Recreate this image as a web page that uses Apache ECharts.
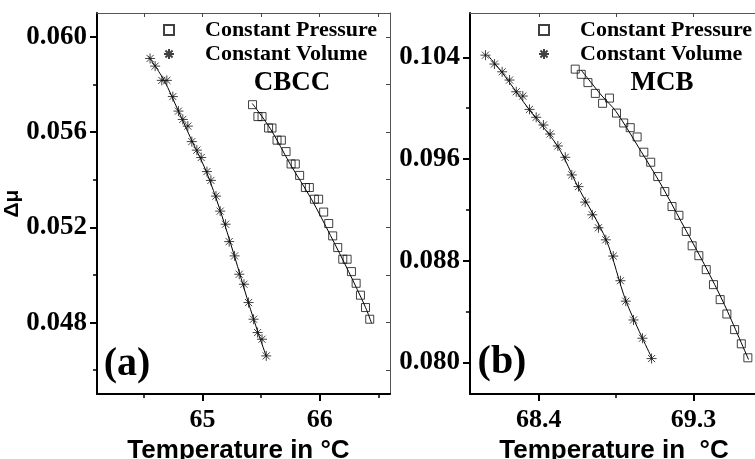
<!DOCTYPE html>
<html>
<head>
<meta charset="utf-8">
<script src="https://cdn.jsdelivr.net/npm/echarts@6.0.0/dist/echarts.min.js"></script>
<style>
  html, body { margin: 0; padding: 0; background: #fff; }
  #chart { width: 755px; height: 459px; }
</style>
</head>
<body>
<div id="chart"></div>
<script>
// (a) CBCC : [temperature, delta mu]
var cbccPressure = [
  [65.427, 0.05715], [65.473, 0.05665], [65.508, 0.05665], [65.564, 0.05617], [65.593, 0.05617],
  [65.636, 0.05566], [65.673, 0.05566], [65.713, 0.05518], [65.756, 0.05466], [65.792, 0.05466],
  [65.829, 0.05418], [65.878, 0.05367], [65.912, 0.05367], [65.955, 0.05318], [65.991, 0.05318],
  [66.034, 0.05264], [66.077, 0.05216], [66.111, 0.05164], [66.154, 0.05115], [66.197, 0.05066],
  [66.234, 0.05066], [66.271, 0.05014], [66.311, 0.04965], [66.348, 0.04915], [66.391, 0.04863],
  [66.427, 0.04814]
];
var cbccVolume = [
  [64.553, 0.05909], [64.596, 0.05877], [64.653, 0.05817], [64.696, 0.05817], [64.747, 0.05749],
  [64.795, 0.05688], [64.832, 0.05653], [64.875, 0.05625], [64.909, 0.05560], [64.952, 0.05524],
  [64.989, 0.05493], [65.038, 0.05434], [65.072, 0.05397], [65.115, 0.05331], [65.151, 0.05268],
  [65.197, 0.05213], [65.228, 0.05140], [65.274, 0.05080], [65.314, 0.05003], [65.354, 0.04961],
  [65.393, 0.04884], [65.436, 0.04814], [65.470, 0.04758], [65.508, 0.04730], [65.544, 0.04660]
];
var cbccPressureFit = [
  [65.425, 0.05720], [65.577, 0.05616], [65.750, 0.05464], [65.930, 0.05318],
  [66.092, 0.05166], [66.246, 0.05015], [66.391, 0.04864], [66.443, 0.04797]
];
var cbccVolumeFit = [
  [64.540, 0.05918], [64.673, 0.05817], [64.792, 0.05691], [64.912, 0.05561], [65.032, 0.05435],
  [65.151, 0.05271], [65.271, 0.05082], [65.391, 0.04885], [65.476, 0.04755], [65.544, 0.04659]
];

// (b) MCB
var mcbPressure = [
  [68.612, 0.10308], [68.647, 0.10267], [68.686, 0.10202], [68.729, 0.10117], [68.771, 0.10039],
  [68.811, 0.10080], [68.852, 0.09962], [68.894, 0.09884], [68.932, 0.09847], [68.972, 0.09774],
  [69.011, 0.09654], [69.051, 0.09575], [69.092, 0.09462], [69.133, 0.09344], [69.175, 0.09226],
  [69.215, 0.09157], [69.258, 0.09030], [69.292, 0.08917], [69.331, 0.08839], [69.374, 0.08729],
  [69.416, 0.08611], [69.455, 0.08493], [69.494, 0.08380], [69.539, 0.08257], [69.578, 0.08145],
  [69.616, 0.08035]
];
var mcbVolume = [
  [68.090, 0.10418], [68.142, 0.10348], [68.187, 0.10287], [68.230, 0.10222], [68.269, 0.10130],
  [68.307, 0.10096], [68.346, 0.09991], [68.385, 0.09929], [68.427, 0.09868], [68.466, 0.09797],
  [68.511, 0.09703], [68.554, 0.09614], [68.592, 0.09475], [68.631, 0.09383], [68.670, 0.09261],
  [68.711, 0.09161], [68.747, 0.09059], [68.790, 0.08964], [68.833, 0.08836], [68.875, 0.08642],
  [68.906, 0.08481], [68.951, 0.08333], [69.003, 0.08189], [69.056, 0.08029]
];
var mcbPressureFit = [
  [68.647, 0.10300], [68.763, 0.10104], [68.850, 0.09973], [68.996, 0.09658], [69.112, 0.09397],
  [69.228, 0.09108], [69.364, 0.08768], [69.480, 0.08453], [69.620, 0.08021]
];
var mcbVolumeFit = [
  [68.103, 0.10418], [68.191, 0.10274], [68.346, 0.09986], [68.511, 0.09698],
  [68.627, 0.09383], [68.792, 0.08964], [68.908, 0.08479], [69.057, 0.08035]
];

// ticks
var aXMajor = [65, 66];
var aXMinor = [64.5, 65.5, 66.5];
var aXTop = [64.5, 65, 65.5, 66, 66.5];
var aYMajor = [0.048, 0.052, 0.056, 0.060];
var aYMinor = [0.046, 0.050, 0.054, 0.058];
var aYRight = [0.046, 0.048, 0.050, 0.052, 0.054, 0.056, 0.058, 0.060];
var bXMajor = [68.4, 69.3];
var bXMinor = [68.85];
var bXTop = [68.4, 68.85, 69.3];
var bYMajor = [0.080, 0.088, 0.096, 0.104];
var bYMinor = [0.084, 0.092, 0.100];

var serif = "'Liberation Serif', 'Times New Roman', serif";
var sans = "'Liberation Sans', Arial, sans-serif";
var starPath = "path://M5,0L5,10M0,5L10,5M1.46,1.46L8.54,8.54M8.54,1.46L1.46,8.54";

function xAxes(g, min, max, major, minor, top, name, fmt, namePad) {
  return [
    {
      type: "value", gridIndex: g, min: min, max: max, position: "bottom",
      name: name, nameLocation: "middle", nameGap: 39,
      nameTextStyle: { fontFamily: sans, fontWeight: "bold", fontSize: 26, color: "#000",
        padding: namePad },
      axisLine: { onZero: false, lineStyle: { color: "#000", width: 2 } },
      axisTick: { length: 7, customValues: major, lineStyle: { color: "#000", width: 2 } },
      axisLabel: { customValues: major, margin: 13, formatter: fmt,
        fontFamily: serif, fontWeight: "bold", fontSize: 26, color: "#000" },
      splitLine: { show: false }
    },
    {
      type: "value", gridIndex: g, min: min, max: max, position: "bottom",
      axisLine: { show: false, onZero: false },
      axisTick: { length: 4, customValues: minor, lineStyle: { color: "#000", width: 1.5 } },
      axisLabel: { show: false },
      splitLine: { show: false }
    },
    {
      type: "value", gridIndex: g, min: min, max: max, position: "top",
      axisLine: { onZero: false, lineStyle: { color: "#555", width: 1 } },
      axisTick: { inside: true, length: 4, customValues: top, lineStyle: { color: "#444", width: 1 } },
      axisLabel: { show: false },
      splitLine: { show: false }
    }
  ];
}

function yAxes(g, min, max, major, minor, right, name, showRight) {
  return [
    {
      type: "value", gridIndex: g, min: min, max: max, position: "left",
      name: name, nameLocation: "middle", nameGap: 72, nameRotate: 90,
      nameTextStyle: { fontFamily: sans, fontWeight: "bold", fontSize: 21, color: "#000" },
      axisLine: { onZero: false, lineStyle: { color: "#000", width: 2 } },
      axisTick: { length: 7, customValues: major, lineStyle: { color: "#000", width: 2 } },
      axisLabel: { customValues: major, margin: 10, formatter: function (v) { return v.toFixed(3); },
        fontFamily: serif, fontWeight: "bold", fontSize: 27, color: "#000" },
      splitLine: { show: false }
    },
    {
      type: "value", gridIndex: g, min: min, max: max, position: "left",
      axisLine: { show: false, onZero: false },
      axisTick: { length: 4, customValues: minor, lineStyle: { color: "#000", width: 1.5 } },
      axisLabel: { show: false },
      splitLine: { show: false }
    },
    {
      type: "value", gridIndex: g, min: min, max: max, position: "right", show: showRight,
      axisLine: { onZero: false, lineStyle: { color: "#555", width: 1 } },
      axisTick: { inside: true, length: 4, customValues: right, lineStyle: { color: "#444", width: 1 } },
      axisLabel: { show: false },
      splitLine: { show: false }
    }
  ];
}

function scatter(name, data, xi, yi, symbol, size) {
  return {
    name: name, type: "scatter", data: data, xAxisIndex: xi, yAxisIndex: yi,
    symbol: symbol, symbolSize: size, z: 3,
    itemStyle: { color: "transparent", borderColor: "#111", borderWidth: 1 }
  };
}

function fit(data, xi, yi) {
  return {
    type: "line", data: data, xAxisIndex: xi, yAxisIndex: yi, symbol: "none", smooth: 0.3,
    lineStyle: { color: "#000", width: 1 }, z: 2, silent: true
  };
}

function legend(left) {
  return {
    left: left, top: 19, orient: "vertical", padding: 0, itemGap: 2,
    itemWidth: 10, itemHeight: 10,
    data: ["Constant Pressure", "Constant Volume"],
    textStyle: { fontFamily: serif, fontWeight: "bold", fontSize: 22, lineHeight: 22,
      color: "#000", padding: [0, 0, 0, 26] }
  };
}

function label(text, x, y, size) {
  return {
    type: "text", x: x, y: y, silent: true,
    style: { text: text, align: "center", verticalAlign: "middle", fill: "#000",
      font: "bold " + size + "px " + serif }
  };
}

var chart = echarts.init(document.getElementById("chart"));
chart.setOption({
  animation: false,
  backgroundColor: "#fff",
  grid: [
    { left: 97, top: 13, right: 365, bottom: 65, outerBoundsMode: "none" },
    { left: 470, top: 13, right: -3, bottom: 65, outerBoundsMode: "none" }
  ],
  legend: [legend(163), legend(538)],
  xAxis: xAxes(0, 64.1, 66.6, aXMajor, aXMinor, aXTop, "Temperature in \u00B0C",
      function (v) { return String(v); }, [0, 10, 0, 0])
    .concat(xAxes(1, 68.0, 69.675, bXMajor, bXMinor, bXTop, "Temperature in  \u00B0C",
      function (v) { return v.toFixed(1); }, 0)),
  yAxis: yAxes(0, 0.045, 0.061, aYMajor, aYMinor, aYRight, "\u0394\u03BC", true)
    .concat(yAxes(1, 0.0775, 0.1075, bYMajor, bYMinor, [], "", false)),
  graphic: [
    label("CBCC", 292, 83, 27),
    label("MCB", 662, 83, 27),
    label("(a)", 127, 365, 40),
    label("(b)", 502, 363, 40)
  ],
  series: [
    fit(cbccPressureFit, 0, 0),
    fit(cbccVolumeFit, 0, 0),
    scatter("Constant Pressure", cbccPressure, 0, 0, "rect", 8),
    scatter("Constant Volume", cbccVolume, 0, 0, starPath, 10),
    fit(mcbPressureFit, 3, 3),
    fit(mcbVolumeFit, 3, 3),
    scatter("Constant Pressure", mcbPressure, 3, 3, "rect", 8),
    scatter("Constant Volume", mcbVolume, 3, 3, starPath, 10)
  ]
});
</script>
</body>
</html>
